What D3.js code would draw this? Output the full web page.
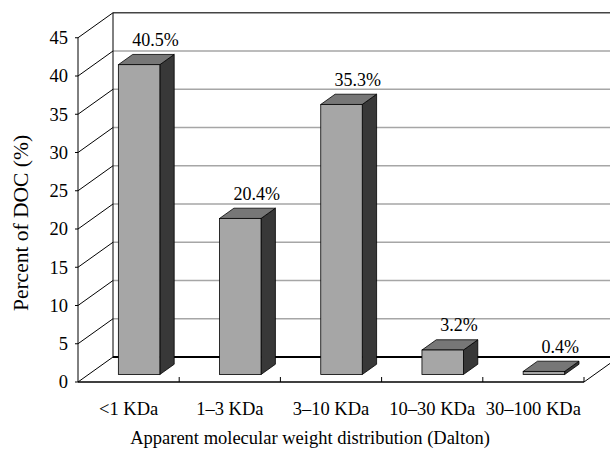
<!DOCTYPE html>
<html>
<head>
<meta charset="utf-8">
<script src="https://cdn.jsdelivr.net/npm/d3@7"></script>
<style>
  html, body { margin: 0; padding: 0; background: #fff; }
</style>
</head>
<body>
<svg id="chart" width="610" height="456"></svg>
<script>
// Molecular weight fractions of dissolved organic carbon
const categories = ["<1 KDa", "1–3 KDa", "3–10 KDa", "10–30 KDa", "30–100 KDa"];
const values = [40.5, 20.4, 35.3, 3.2, 0.4];
const valueLabels = ["40.5%", "20.4%", "35.3%", "3.2%", "0.4%"];
const yTicks = [0, 5, 10, 15, 20, 25, 30, 35, 40, 45];
const yTitle = "Percent of DOC (%)";
const xTitle = "Apparent molecular weight distribution (Dalton)";

const FONT = '"Liberation Serif"';
const svg = d3.select("#chart");

// front plane of the floor / axis
const x0 = 78, x1 = 584;
const y = d3.scaleLinear().domain([0, 45]).range([382, 37.75]);
const x = d3.scaleBand().domain(categories).range([x0, x1])
  .paddingInner(0.59).paddingOuter(0.295);
const slot = d3.scaleBand().domain(categories).range([x0, x1]).padding(0);

// oblique depth vector of the whole chart box
const DX = 35, DY = -25;
const frontDepth = 0.3, backDepth = 0.71;

// back wall gridlines
svg.append("g").selectAll("line").data(yTicks.filter(t => t > 0 && t < 45)).join("line")
  .attr("x1", x0 + DX).attr("x2", x1 + DX)
  .attr("y1", d => y(d) + DY).attr("y2", d => y(d) + DY)
  .attr("stroke", "#a6a6a6").attr("stroke-width", 1.4);

// top edge of back wall
svg.append("line")
  .attr("x1", x0 + DX).attr("x2", x1 + DX)
  .attr("y1", y(45) + DY).attr("y2", y(45) + DY)
  .attr("stroke", "#444").attr("stroke-width", 1.6);

// left edge of back wall
svg.append("line")
  .attr("x1", x0 + DX).attr("x2", x0 + DX)
  .attr("y1", y(0) + DY).attr("y2", y(45) + DY)
  .attr("stroke", "#000").attr("stroke-width", 1);

// side wall: diagonal lines from each tick to the back wall
svg.append("g").selectAll("line").data(yTicks).join("line")
  .attr("x1", x0).attr("y1", d => y(d))
  .attr("x2", x0 + DX).attr("y2", d => y(d) + DY)
  .attr("stroke", "#000").attr("stroke-width", 1);

// front vertical axis
svg.append("line")
  .attr("x1", x0).attr("x2", x0).attr("y1", y(0)).attr("y2", y(45))
  .attr("stroke", "#000").attr("stroke-width", 1);
svg.append("g").selectAll("line").data(yTicks).join("line")
  .attr("x1", x0 - 3).attr("x2", x0).attr("y1", d => y(d)).attr("y2", d => y(d))
  .attr("stroke", "#000").attr("stroke-width", 1);

// floor: back line, front line, right edge, ticks
svg.append("line")
  .attr("x1", x0 + DX).attr("x2", x1 + DX)
  .attr("y1", y(0) + DY).attr("y2", y(0) + DY)
  .attr("stroke", "#000").attr("stroke-width", 2);
svg.append("line")
  .attr("x1", x0).attr("x2", x1).attr("y1", y(0)).attr("y2", y(0))
  .attr("stroke", "#000").attr("stroke-width", 1.5);
svg.append("line")
  .attr("x1", x1).attr("y1", y(0)).attr("x2", x1 + DX).attr("y2", y(0) + DY)
  .attr("stroke", "#000").attr("stroke-width", 1);
svg.append("g").selectAll("line").data(categories.slice(1).concat(["end"])).join("line")
  .attr("x1", d => d === "end" ? x1 : slot(d)).attr("x2", d => d === "end" ? x1 : slot(d))
  .attr("y1", y(0)).attr("y2", y(0) - 5)
  .attr("stroke", "#000").attr("stroke-width", 1);

// 3D bars
const fdx = DX * frontDepth, fdy = DY * frontDepth;
const bdx = DX * backDepth, bdy = DY * backDepth;
const ddx = bdx - fdx, ddy = bdy - fdy;
const bars = svg.append("g").selectAll("g").data(categories).join("g");
const pts = a => a.map(p => p.join(",")).join(" ");

bars.each(function (c, i) {
  const g = d3.select(this);
  const left = x(c) + fdx, right = x(c) + x.bandwidth() + fdx;
  const bottom = y(0) + fdy, top = y(values[i]) + fdy;
  // side face
  g.append("polygon")
    .attr("points", pts([[right, bottom], [right + ddx, bottom + ddy], [right + ddx, top + ddy], [right, top]]))
    .attr("fill", "#383838").attr("stroke", "#000").attr("stroke-width", 0.8);
  // top face
  g.append("polygon")
    .attr("points", pts([[left, top], [right, top], [right + ddx, top + ddy], [left + ddx, top + ddy]]))
    .attr("fill", "#777777").attr("stroke", "#000").attr("stroke-width", 0.8);
  // front face
  g.append("rect")
    .attr("x", left).attr("y", top).attr("width", x.bandwidth()).attr("height", bottom - top)
    .attr("fill", "#a6a6a6").attr("stroke", "#000").attr("stroke-width", 0.8);
  // value label
  g.append("text")
    .attr("x", left + x.bandwidth() / 2 + ddx + 2)
    .attr("y", top + ddy - 8.5)
    .attr("text-anchor", "middle")
    .style("font-family", FONT)
    .attr("font-size", 18).attr("fill", "#000")
    .text(valueLabels[i]);
});

// y tick labels
svg.append("g").selectAll("text").data(yTicks).join("text")
  .attr("x", 68).attr("y", d => y(d))
  .attr("dy", "0.35em").attr("text-anchor", "end")
  .style("font-family", FONT)
  .attr("font-size", 18.5).attr("fill", "#000")
  .text(d => d);

// category labels
svg.append("g").selectAll("text").data(categories).join("text")
  .attr("x", d => slot(d) + slot.bandwidth() / 2).attr("y", 415)
  .attr("text-anchor", "middle").attr("font-size", 18.5).attr("fill", "#000")
  .style("font-family", FONT)
  .text(d => d);

// axis titles
svg.append("text")
  .attr("x", 310).attr("y", 444).attr("text-anchor", "middle")
  .style("font-family", FONT)
  .attr("font-size", 18.5).attr("fill", "#000").text(xTitle);
svg.append("text")
  .attr("transform", "translate(28,223) rotate(-90)")
  .attr("text-anchor", "middle")
  .style("font-family", FONT)
  .attr("font-size", 21.5).attr("fill", "#000").text(yTitle);
</script>
</body>
</html>
